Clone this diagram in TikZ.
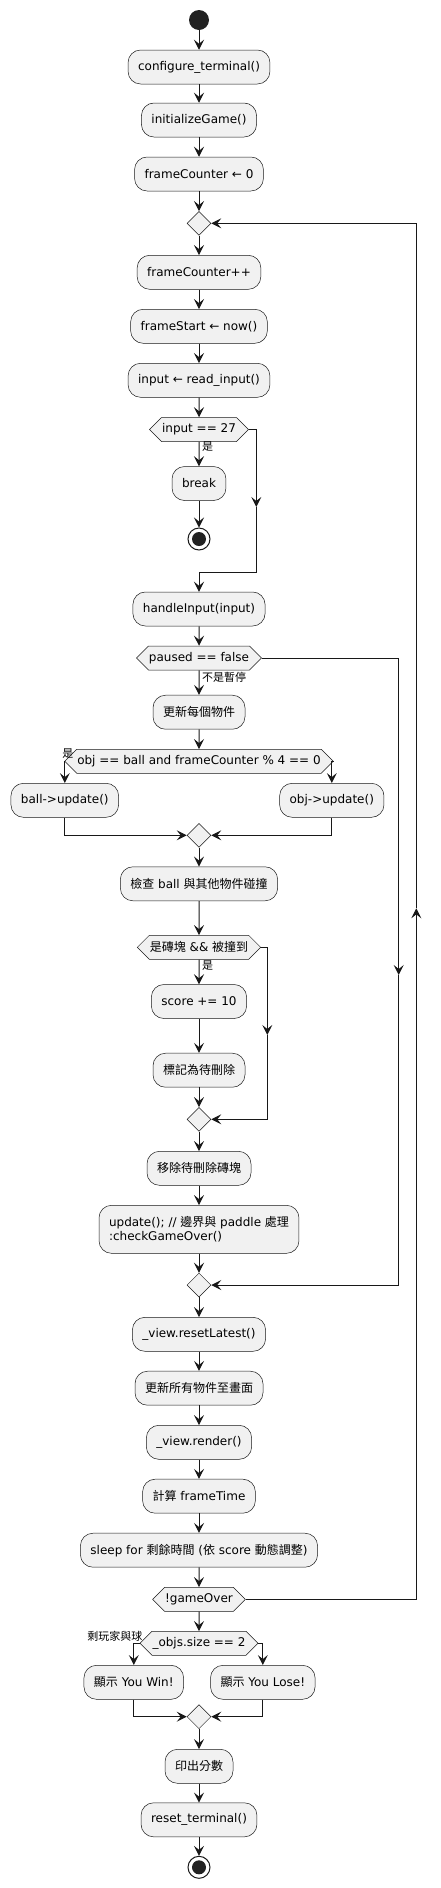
\documentclass[tikz,border=0pt]{standalone}
\usepackage{fontspec}
\setmainfont{DejaVu Sans}
\newfontfamily\zhfont{Noto Sans CJK TC}
\newcommand{\zh}[1]{{\zhfont #1}}
\usetikzlibrary{arrows.meta,shapes.geometric,shapes.symbols,positioning}
\definecolor{actfill}{HTML}{F1F1F1}
\definecolor{actline}{HTML}{181818}
\definecolor{dotfill}{HTML}{222222}

\begin{document}
\begin{tikzpicture}[x=1pt, y=-1pt,
    every node/.style={font=\fontsize{12}{14}\selectfont},
    act/.style={draw=actline, line width=0.5pt, fill=actfill, rounded corners=12.5pt, minimum height=34pt, inner xsep=10pt},
    hexa/.style={draw=actline, line width=0.5pt, fill=actfill, signal, signal to=west and east, signal pointer angle=90, minimum height=24pt, inner xsep=0.5pt, inner ysep=0pt},
    merge/.style={draw=actline, line width=0.5pt, fill=actfill, diamond, minimum size=24pt, inner sep=0pt},
    startdot/.style={circle, fill=dotfill, minimum size=20pt, inner sep=0pt},
    stopdot/.style={circle, draw=actline, line width=1pt, fill=white, minimum size=22pt, inner sep=0pt,
      path picture={\fill[dotfill] (path picture bounding box.center) circle (7pt);}},
    lbl/.style={font=\fontsize{11}{13}\selectfont, inner sep=1pt},
    flow/.style={draw=actline, line width=1pt, -{Stealth[length=10pt,width=10pt,inset=4pt]}},
    wire/.style={draw=actline, line width=1pt}]
  \useasboundingbox (0,0) rectangle (441,1888);

  % setup
  \node[startdot] (start) at (199,20) {};
  \node[act] (cfg) at (199,67) {configure\_terminal()};
  \node[act] (init) at (199,120) {initializeGame()};
  \node[act] (fc0) at (199,174) {frameCounter ← 0};
  \node[merge] (loop) at (199,223.3) {};

  % loop body
  \node[act] (fcpp) at (199,272.3) {frameCounter++};
  \node[act] (fstart) at (199,326.3) {frameStart ← now()};
  \node[act] (rdin) at (199,380.3) {input ← read\_input()};
  \node[hexa] (esc) at (199,429.5) {input == 27};
  \node[act] (brk) at (199,483.5) {break};
  \node[stopdot] (stop1) at (199,539) {};
  \node[act] (hin) at (199,609) {handleInput(input)};
  \node[hexa] (paused) at (199,658) {paused == false};
  \node[act] (upd) at (199,712.2) {\zh{更新每個物件}};
  \node[hexa] (objq) at (199,761.3) {obj == ball and frameCounter \% 4 == 0};
  \node[act] (ballupd) at (64.8,800.3) {ball->update()};
  \node[act] (objupd) at (331.8,800.3) {obj->update()};
  \node[merge] (m1) at (199,835.3) {};
  \node[act] (chk) at (199,883.8) {\zh{檢查} ball \zh{與其他物件碰撞}};
  \node[hexa] (brick) at (199,947.3) {\zh{是磚塊} \&\& \zh{被撞到}};
  \node[act] (score) at (199,1001.5) {score += 10};
  \node[act] (mark) at (199,1070.2) {\zh{標記為待刪除}};
  \node[merge] (m2) at (199,1119.3) {};
  \node[act] (rm) at (199,1168.3) {\zh{移除待刪除磚塊}};
  \node[act, align=left, minimum height=48pt] (updgo) at (199,1229.3) {update(); // \zh{邊界與} paddle \zh{處理}\\:checkGameOver()};
  \node[merge] (m3) at (199,1285) {};
  \node[act] (rst) at (199,1334.3) {\_view.resetLatest()};
  \node[act] (drawall) at (199,1388.2) {\zh{更新所有物件至畫面}};
  \node[act] (render) at (199,1442.3) {\_view.render()};
  \node[act] (ftime) at (199,1496.2) {\zh{計算} frameTime};
  \node[act] (sleep) at (199,1550.2) {sleep for \zh{剩餘時間} (\zh{依} score \zh{動態調整})};
  \node[hexa] (gover) at (199,1599.3) {!gameOver};

  % ending
  \node[hexa] (objs) at (199,1643.3) {\_objs.size == 2};
  \node[act] (win) at (133.8,1682.3) {\zh{顯示} You Win!};
  \node[act] (lose) at (262.8,1682.3) {\zh{顯示} You Lose!};
  \node[merge] (m4) at (199,1716.7) {};
  \node[act] (prt) at (199,1766.3) {\zh{印出分數}};
  \node[act] (rterm) at (199,1819.8) {reset\_terminal()};
  \node[stopdot] (stop2) at (199,1867.3) {};

  % side lines
  \coordinate (escM) at (256.3,507);
  \coordinate (escJ) at (256.3,572.3);
  \coordinate (brkM) at (267.3,1035);
  \coordinate (pauM) at (398.7,975);
  \coordinate (loopM) at (416.3,908.3);

  % straight flow
  \foreach \a/\b in {start/cfg, cfg/init, init/fc0, fc0/loop, loop/fcpp, fcpp/fstart, fstart/rdin,
      rdin/esc, esc/brk, brk/stop1, hin/paused, paused/upd, upd/objq, m1/chk, chk/brick,
      brick/score, score/mark, mark/m2, m2/rm, rm/updgo, updgo/m3, m3/rst, rst/drawall,
      drawall/render, render/ftime, ftime/sleep, sleep/gover, gover/objs, m4/prt, prt/rterm, rterm/stop2}
    \draw[flow] (\a) -- (\b);

  % branches
  \draw[flow] (esc.east) -| (escM);
  \draw[flow] (escM) -- (escJ) -| (hin.north);
  \draw[flow] (objq.west) -| (ballupd.north);
  \draw[flow] (objq.east) -| (objupd.north);
  \draw[flow] (ballupd.south) |- (m1.west);
  \draw[flow] (objupd.south) |- (m1.east);
  \draw[flow] (brick.east) -| (brkM);
  \draw[flow] (brkM) |- (m2.east);
  \draw[flow] (paused.east) -| (pauM);
  \draw[flow] (pauM) |- (m3.east);
  \draw[flow] (gover.east) -| (loopM);
  \draw[flow] (loopM) |- (loop.east);
  \draw[flow] (objs.west) -| (win.north);
  \draw[flow] (objs.east) -| (lose.north);
  \draw[flow] (win.south) |- (m4.west);
  \draw[flow] (lose.south) |- (m4.east);

  % labels
  \node[lbl, anchor=west] (yes1) at (201,447) {\zh{是}};
  \node[lbl, anchor=west] (notp) at (201,677.5) {\zh{不是暫停}};
  \node[lbl, anchor=east] (yes2) at (74.5,754) {\zh{是}};
  \node[lbl, anchor=west] (yes3) at (201,966) {\zh{是}};
  \node[lbl, anchor=east] (left) at (143.5,1636) {\zh{剩玩家與球}};
\end{tikzpicture}
\end{document}
